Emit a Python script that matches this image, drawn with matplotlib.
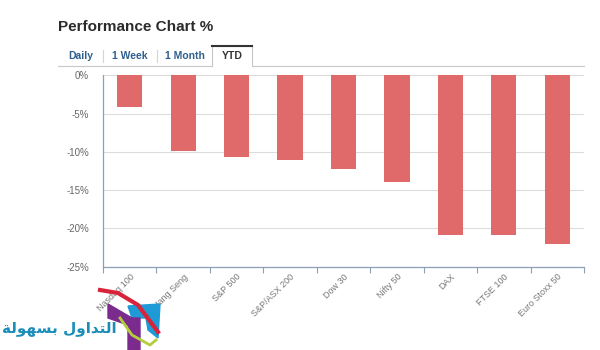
import numpy as np
import matplotlib.pyplot as plt
from matplotlib.patches import Polygon
from matplotlib.lines import Line2D

# data
indices = ['Nasdaq 100', 'Hang Seng', 'S&P 500', 'S&P/ASX 200', 'Dow 30',
           'Nifty 50', 'DAX', 'FTSE 100', 'Euro Stoxx 50']
ytd_change = [-4.1, -9.9, -10.7, -11.0, -12.3, -14.0, -20.8, -20.8, -22.0]
y_ticks = [0, -5, -10, -15, -20, -25]
tabs = ['Daily', '1 Week', '1 Month', 'YTD']

W, H = 600, 350
fig = plt.figure(figsize=(6, 3.5), dpi=100)
fig.patch.set_facecolor('white')
plt.rcParams['font.family'] = ['Liberation Sans', 'DejaVu Sans']

def fx(px):
    return px / W

def fy(py):
    return 1 - py / H

# plot area
ax = fig.add_axes([fx(103), fy(266.7), fx(584 - 103), fy(75.3) - fy(266.7)])
x = np.arange(len(indices))
ax.bar(x, ytd_change, width=0.47, color='#e06a6a', zorder=3)
ax.set_xlim(-0.5, len(indices) - 0.5)
ax.set_ylim(-25, 0)
ax.set_yticks(y_ticks)
ax.set_yticklabels(['%d%%' % v for v in y_ticks], fontsize=7, color='#666666')
ax.tick_params(axis='y', length=0, pad=10)
ax.yaxis.grid(True, color='#dcdcdc', linewidth=0.8, zorder=0)
ax.set_xticks(x)
ax.set_xticklabels(indices, rotation=45, ha='right', va='top',
                   rotation_mode='anchor', fontsize=6.5, color='#777777')
ax.tick_params(axis='x', length=0, pad=4)
# ticks at category boundaries
ax.set_xticks(np.arange(len(indices) + 1) - 0.5, minor=True)
ax.tick_params(axis='x', which='minor', length=4, color='#8da0b5', width=0.8)
for s in ['top', 'right']:
    ax.spines[s].set_visible(False)
for s in ['left', 'bottom']:
    ax.spines[s].set_color('#8da0b5')
    ax.spines[s].set_linewidth(0.9)

# title
fig.text(fx(58), fy(27), 'Performance Chart %', fontsize=11, fontweight='bold',
         color='#2b2b2b', va='center', ha='left')

# tab bar
tab_x = [81, 129.5, 184.5, 232]
for t, tx in zip(tabs, tab_x):
    col = '#333333' if t == 'YTD' else '#2f5f8f'
    fig.text(fx(tx), fy(56), t, fontsize=7.5, fontweight='bold', color=col,
             ha='center', va='center')
for sx in [103, 157]:
    fig.add_artist(Line2D([fx(sx), fx(sx)], [fy(50), fy(62)], color='#d5d5d5', lw=0.8))
fig.add_artist(Line2D([fx(58), fx(212)], [fy(66), fy(66)], color='#c8c8c8', lw=0.8))
fig.add_artist(Line2D([fx(252), fx(584)], [fy(66), fy(66)], color='#c8c8c8', lw=0.8))
fig.add_artist(Line2D([fx(212), fx(212), fx(252), fx(252)],
                      [fy(66), fy(46), fy(46), fy(66)], color='#c8c8c8', lw=0.8))
fig.add_artist(Line2D([fx(212), fx(252)], [fy(46), fy(46)], color='#333333', lw=1.5))

# watermark logo (rough)
fig.add_artist(Polygon([(fx(128), fy(306)), (fx(160), fy(304)), (fx(158), fy(338)),
                        (fx(148), fy(330)), (fx(146), fy(318)), (fx(132), fy(318))],
                       closed=True, color='#1e9ad6', transform=fig.transFigure))
fig.add_artist(Polygon([(fx(108), fy(304)), (fx(132), fy(318)), (fx(140), fy(318)),
                        (fx(140), fy(350)), (fx(128), fy(350)), (fx(128), fy(325)),
                        (fx(108), fy(318))],
                       closed=True, color='#7b2b8e', transform=fig.transFigure))
fig.add_artist(Line2D([fx(100), fx(118), fx(138), fx(158)],
                      [fy(290), fy(293), fy(305), fy(332)], color='#d8243a', lw=3))
fig.add_artist(Line2D([fx(120), fx(132), fx(150), fx(156)],
                      [fy(318), fy(335), fy(345), fy(340)], color='#b5cf3c', lw=2))

# Arabic text in visual order with presentation forms: "التداول بسهولة"
arabic = '\ufe94\ufedf\ufeee\ufeec\ufeb4\ufe91 \ufedd\ufeed\ufe8d\ufeaa\ufe98\ufedf\ufe8d'
fig.text(fx(117), fy(328), arabic, fontsize=11, fontweight='bold', color='#1a8db8',
         ha='right', va='center', family=['DejaVu Sans'])

fig.savefig('out.png', dpi=100)
